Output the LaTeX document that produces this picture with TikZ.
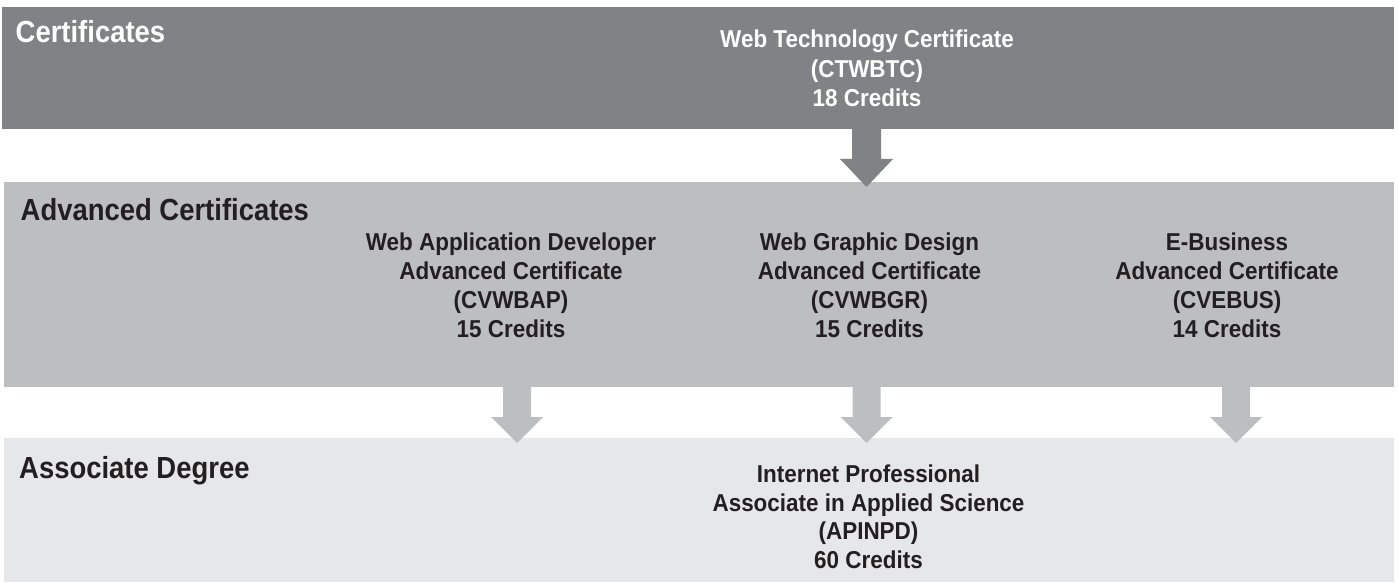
\documentclass[tikz,border=0pt]{standalone}
\usepackage{fontspec}
\setmainfont{Liberation Sans}
\newfontfamily\condfont[FakeStretch=0.92]{Liberation Sans}
\newfontfamily\condheadfont[FakeStretch=0.9]{Liberation Sans}
\definecolor{bandtop}{HTML}{808285}
\definecolor{bandmid}{HTML}{BCBEC0}
\definecolor{bandbot}{HTML}{E6E7E8}
\definecolor{inkdark}{HTML}{231F20}
\tikzset{
  headtext/.style={anchor=base west, inner sep=0pt, font=\condheadfont\bfseries\fontsize{30.5}{36}\selectfont},
  bodytext/.style={anchor=base, inner sep=0pt, align=center, font=\condfont\bfseries\fontsize{24.4}{#1}\selectfont},
  bodytext/.default=29,
}
\begin{document}
\begin{tikzpicture}[x=1pt,y=-1pt]
\useasboundingbox (0,0) rectangle (1398,583);
% bands
\fill[bandtop] (2,7) rectangle (1394,129);
\fill[bandmid] (4,182) rectangle (1394,387);
\fill[bandbot] (4,438) rectangle (1394,582);
% arrows
\fill[bandtop] (852,128) -- (881,128) -- (881,159) -- (893,159) -- (866.5,187) -- (840,159) -- (852,159) -- cycle;
\foreach \cx in {517,866.5,1236}{
  \fill[bandmid] (\cx-14,386) -- (\cx+14,386) -- (\cx+14,417) -- (\cx+26,417) -- (\cx,443) -- (\cx-26,417) -- (\cx-14,417) -- cycle;
}
% headings
\node[headtext, text=white] (hcert) at (15.5,43) {Certificates};
\node[headtext, text=inkdark] (hadv) at (20.5,220) {Advanced Certificates};
\node[headtext, text=inkdark] (hassoc) at (19,478) {Associate Degree};
% body texts (anchored at the baseline of the last line)
\node[bodytext=29.5, text=white] (ctwbtc) at (867,107) {Web Technology Certificate\\(CTWBTC)\\18 Credits};
\node[bodytext, text=inkdark] (cvwbap) at (511,337) {Web Application Developer\\Advanced Certificate\\(CVWBAP)\\15 Credits};
\node[bodytext, text=inkdark] (cvwbgr) at (869.5,337) {Web Graphic Design\\Advanced Certificate\\(CVWBGR)\\15 Credits};
\node[bodytext, text=inkdark] (cvebus) at (1227,337) {E-Business\\Advanced Certificate\\(CVEBUS)\\14 Credits};
\node[bodytext=28.5, text=inkdark] (apinpd) at (868.5,568) {Internet Professional\\Associate in Applied Science\\(APINPD)\\60 Credits};
\end{tikzpicture}
\end{document}
